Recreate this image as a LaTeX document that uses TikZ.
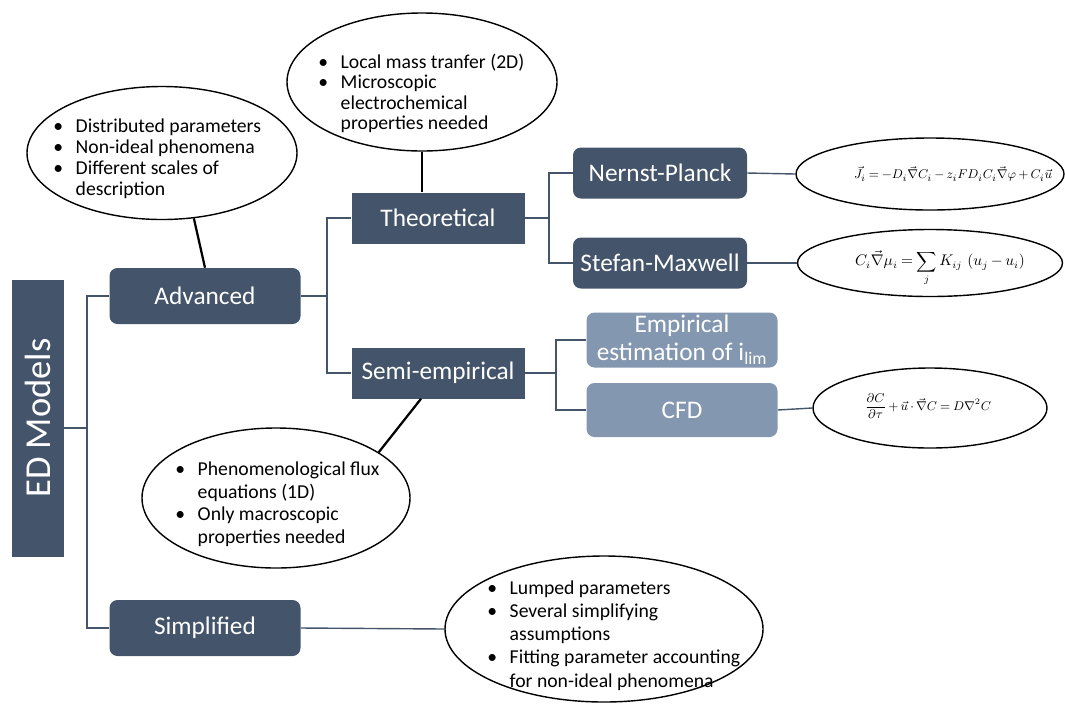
\documentclass[tikz,border=0pt]{standalone}
\usepackage{fontspec}
\setmainfont{Carlito}
\usetikzlibrary{shapes.geometric}
\definecolor{edblue}{RGB}{68,84,106}
\definecolor{edlight}{RGB}{132,151,176}
\newdimen\pxu
\pxu=0.025cm
\protected\def\tighteq{\medmuskip=3mu\relax\thickmuskip=4mu\relax}

\tikzset{
	darkbox/.style={fill=edblue, text=white, font=\fontsize{18}{20}\selectfont, inner sep=0pt, minimum height=51\pxu},
	roundbox/.style={darkbox, rounded corners=8\pxu},
	lightbox/.style={roundbox, fill=edlight},
	note/.style={draw=black, line width=1pt, ellipse, inner sep=0pt},
	notetext/.style={font=\fontsize{14}{#1}\selectfont, inner sep=0pt, anchor=west},
	notetext/.default=16pt,
	eqtext/.style={font=\fontsize{#1}{12}\selectfont, inner sep=0pt},
	eqtext/.default=10,
	branch/.style={draw=edblue, line width=1pt},
	pointer/.style={draw=black, line width=1.6pt},
}

\begin{document}
\begin{tikzpicture}[x=0.025cm, y=-0.025cm]
	\useasboundingbox (0,0) rectangle (1065,706);
	
	% boxes
	\node[darkbox, rotate=90, minimum width=277\pxu, minimum height=52\pxu, font=\fontsize{26}{28}\selectfont] (ed) at (38,418) {ED Models};
	\node[roundbox, minimum width=191\pxu, minimum height=56\pxu] (adv) at (205,296) {Advanced};
	\node[roundbox, minimum width=191\pxu, minimum height=56\pxu] (simp) at (205,628) {Simplified};
	\node[darkbox, minimum width=173\pxu] (theo) at (438,218) {Theoretical};
	\node[darkbox, minimum width=173\pxu] (semi) at (438,373) {Semi-empirical};
	\node[roundbox, minimum width=174\pxu] (np) at (660,173) {Nernst-Planck};
	\node[roundbox, minimum width=174\pxu] (sm) at (660,263) {Stefan-Maxwell};
	\node[lightbox, minimum width=191\pxu, minimum height=55\pxu, align=center] (emp) at (682,340) {Empirical\\estimation of i\textsubscript{lim}};
	\node[lightbox, minimum width=191\pxu, minimum height=54\pxu] (cfd) at (682,410) {CFD};
	
	% tree
	\coordinate (trunk) at (87,428);
	\coordinate (advfork) at (327,296);
	\coordinate (theofork) at (549,218);
	\coordinate (semifork) at (556,373);
	\draw[branch] (trunk -| ed.south) -- (trunk);
	\draw[branch] (adv.west) -| (trunk) |- (simp.west);
	\draw[branch] (adv.east) -- (advfork);
	\draw[branch] (theo.west) -| (advfork) |- (semi.west);
	\draw[branch] (theo.east) -- (theofork);
	\draw[branch] (np.west) -| (theofork) |- (sm.west);
	\draw[branch] (semi.east) -- (semifork);
	\draw[branch] (emp.west) -| (semifork) |- (cfd.west);
	
	% ellipses
	\node[note, minimum width=270\pxu, minimum height=133\pxu] (advnote) at (162,153) {};
	\node[note, minimum width=270\pxu, minimum height=138\pxu] (theonote) at (422,82) {};
	\node[note, minimum width=268\pxu, minimum height=140\pxu] (seminote) at (276,498) {};
	\node[note, minimum width=318\pxu, minimum height=146\pxu] (simpnote) at (604,629) {};
	\node[note, minimum width=268\pxu, minimum height=72\pxu] (npnote) at (930,174) {};
	\node[note, minimum width=265\pxu, minimum height=67\pxu] (smnote) at (930,263) {};
	\node[note, minimum width=234\pxu, minimum height=80\pxu] (cfdnote) at (930,408) {};
	
	\node[notetext=15pt] (advtext) at (53,160) {\begin{tabular}{@{}l@{\hspace{9pt}}l@{}}
		\textbullet & Distributed parameters\\
		\textbullet & Non-ideal phenomena\\
		\textbullet & Different scales of\\
		& description
	\end{tabular}};
	\node[notetext=14.5pt] (theotext) at (318,95) {\begin{tabular}{@{}l@{\hspace{9pt}}l@{}}
		\textbullet & Local mass tranfer (2D)\\
		\textbullet & Microscopic\\
		& electrochemical\\
		& properties needed
	\end{tabular}};
	\node[notetext] (semitext) at (175,505) {\begin{tabular}{@{}l@{\hspace{9pt}}l@{}}
		\textbullet & Phenomenological flux\\
		& equations (1D)\\
		\textbullet & Only macroscopic\\
		& properties needed
	\end{tabular}};
	\node[notetext=16.5pt] (simptext) at (487,636) {\begin{tabular}{@{}l@{\hspace{9pt}}l@{}}
		\textbullet & Lumped parameters\\
		\textbullet & Several simplifying\\
		& assumptions\\
		\textbullet & Fitting parameter accounting\\
		& for non-ideal phenomena
	\end{tabular}};
	
	\node[eqtext=9.5] (npeq) at (953,174) {$\tighteq\vec{J}_i = -D_i\vec{\nabla}C_i - z_iFD_iC_i\vec{\nabla}\varphi + C_i\vec{u}$};
	\node[eqtext=10.5] (smeq) at (940,268) {$\tighteq\displaystyle C_i\vec{\nabla}\mu_i = \sum_j K_{ij}\,\left(u_j - u_i\right)$};
	\node[eqtext=9] (cfdeq) at (928,406) {$\tighteq\displaystyle \frac{\partial C}{\partial\tau} + \vec{u}\cdot\vec{\nabla}C = D\nabla^2C$};
	
	% connectors to the notes
	\draw[pointer] (advnote.296) -- (adv.north);
	\draw[pointer] (theonote.south) -- (theonote.south |- theo.north);
	\draw[pointer] (seminote.24) -- ([xshift=-17\pxu]semi.south);
	\draw[branch] (np.east) -- (npnote.west);
	\draw[branch] (sm.east) -- (smnote.west);
	\draw[branch] (cfd.east) -- (cfdnote.west);
	\draw[branch] (simp.east) -- (simpnote.west);
	
\end{tikzpicture}
\end{document}
